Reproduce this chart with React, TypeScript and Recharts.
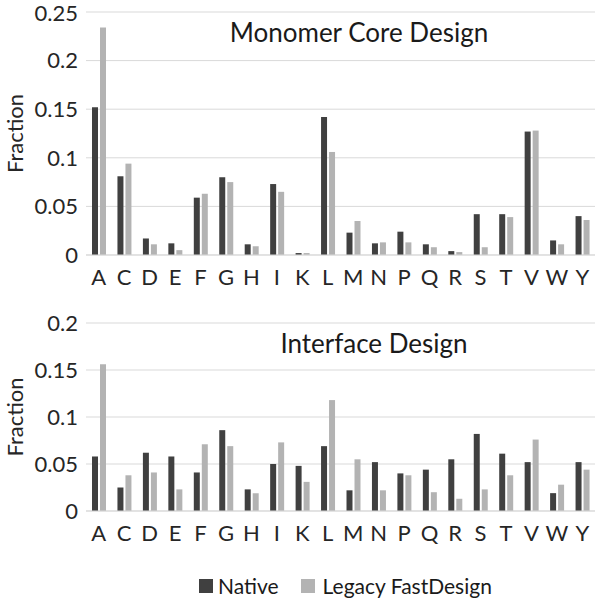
import { Bar, BarChart, CartesianGrid, XAxis, YAxis } from "recharts";

const residues = ["A", "C", "D", "E", "F", "G", "H", "I", "K", "L", "M", "N", "P", "Q", "R", "S", "T", "V", "W", "Y"];

const coreNative = [0.152, 0.081, 0.017, 0.012, 0.059, 0.08, 0.011, 0.073, 0.002, 0.142, 0.023, 0.012, 0.024, 0.011, 0.004, 0.042, 0.042, 0.127, 0.015, 0.04];
const coreLegacy = [0.234, 0.094, 0.011, 0.005, 0.063, 0.075, 0.009, 0.065, 0.002, 0.106, 0.035, 0.013, 0.013, 0.008, 0.003, 0.008, 0.039, 0.128, 0.011, 0.036];

const ifaceNative = [0.058, 0.025, 0.062, 0.058, 0.041, 0.086, 0.023, 0.05, 0.048, 0.069, 0.022, 0.052, 0.04, 0.044, 0.055, 0.082, 0.061, 0.052, 0.019, 0.052];
const ifaceLegacy = [0.156, 0.038, 0.041, 0.023, 0.071, 0.069, 0.019, 0.073, 0.031, 0.118, 0.055, 0.022, 0.038, 0.02, 0.013, 0.023, 0.038, 0.076, 0.028, 0.044];

const coreTicks = [0, 0.05, 0.1, 0.15, 0.2, 0.25];
const ifaceTicks = [0, 0.05, 0.1, 0.15, 0.2];

const coreData = residues.map((r, i) => ({ residue: r, native: coreNative[i], legacy: coreLegacy[i] }));
const ifaceData = residues.map((r, i) => ({ residue: r, native: ifaceNative[i], legacy: ifaceLegacy[i] }));

const FONT = "Lato, 'Open Sans', sans-serif";
const DARK = "#404040";
const LIGHT = "#b3b3b3";
const tickStyle = { fontSize: 22, fill: "#262626", fontFamily: FONT };

const Panel = ({ data, ticks, height, top }: { data: any[]; ticks: number[]; height: number; top: number }) => (
  <BarChart width={604} height={height} data={data} margin={{ top, right: 9, bottom: 0, left: 0 }} barSize={6} barGap={2}>
    <CartesianGrid vertical={false} stroke="#d9d9d9" />
    <XAxis dataKey="residue" interval={0} tickLine={false} axisLine={{ stroke: "#d9d9d9" }} tick={tickStyle} tickMargin={8} height={35} />
    <YAxis
      domain={[0, ticks[ticks.length - 1]]}
      ticks={ticks}
      width={86}
      tickLine={false}
      axisLine={false}
      tick={tickStyle}
      label={{ value: "Fraction", angle: -90, position: "insideLeft", offset: 15, textAnchor: "middle", style: { fontSize: 22, fill: "#262626", fontFamily: FONT } } as any}
    />
    <Bar dataKey="native" name="Native" fill={DARK} isAnimationActive={false} />
    <Bar dataKey="legacy" name="Legacy FastDesign" fill={LIGHT} isAnimationActive={false} />
  </BarChart>
);

const Title = ({ text, cx, top }: { text: string; cx: number; top: number }) => (
  <div style={{ position: "absolute", left: cx - 200, width: 400, top, textAlign: "center", fontFamily: FONT, fontSize: 26, lineHeight: "26px", color: "#1a1a1a" }}>
    {text}
  </div>
);

export default function App() {
  return (
    <div style={{ position: "absolute", left: 0, top: 0, width: 604, height: 600, background: "#fff", fontFamily: FONT }}>
      <div style={{ position: "absolute", left: 0, top: 0 }}>
        <Panel data={coreData} ticks={coreTicks} height={290} top={12} />
      </div>
      <div style={{ position: "absolute", left: 0, top: 300 }}>
        <Panel data={ifaceData} ticks={ifaceTicks} height={246} top={23} />
      </div>
      <Title text="Monomer Core Design" cx={359} top={19} />
      <Title text="Interface Design" cx={374} top={330} />
      <div style={{ position: "absolute", left: 199, top: 574, display: "flex", alignItems: "center", fontSize: 21, color: "#1a1a1a", lineHeight: "24px" }}>
        <span style={{ width: 14, height: 14, background: DARK, display: "inline-block", marginRight: 5 }} />
        <span>Native</span>
        <span style={{ width: 14, height: 14, background: LIGHT, display: "inline-block", marginLeft: 22, marginRight: 8 }} />
        <span>Legacy FastDesign</span>
      </div>
    </div>
  );
}
